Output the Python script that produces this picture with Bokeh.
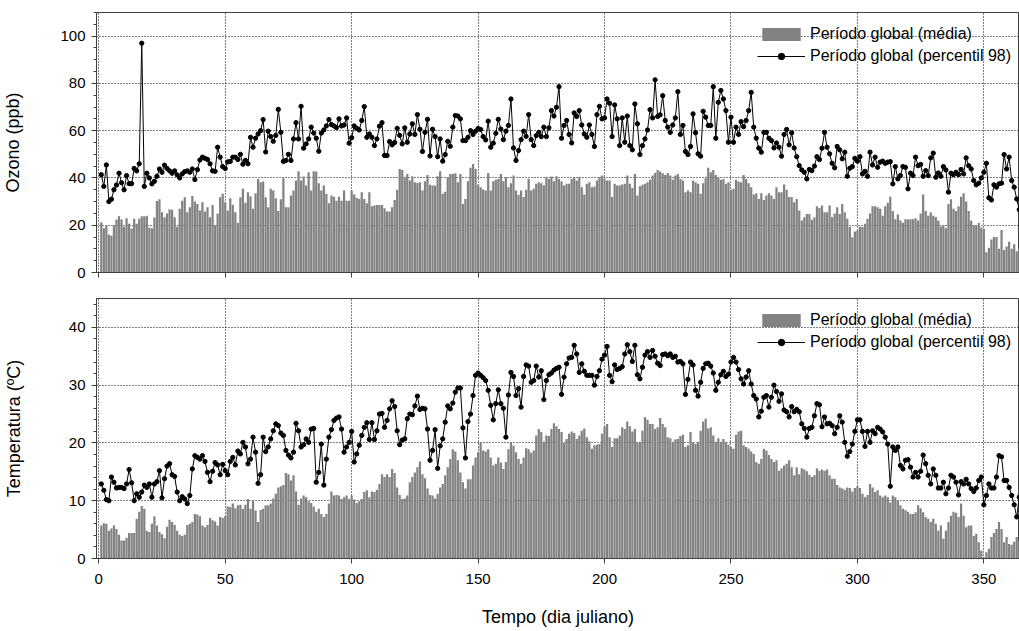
from bokeh.plotting import figure
from bokeh.layouts import column
from bokeh.models import Range1d, Legend, LegendItem, FixedTicker, CustomLabelingPolicy
from bokeh.embed import file_html
from bokeh.resources import INLINE

# ---------------- data ----------------
days = list(range(1, 366))

x_ticks = [0, 50, 100, 150, 200, 250, 300, 350]
ozone_ticks = [0, 20, 40, 60, 80, 100]
temp_ticks = [0, 10, 20, 30, 40]

label_mean = "Período global (média)"
label_p98 = "Período global (percentil 98)"
ozone_title = "Ozono (ppb)"
temp_title = "Temperatura (ºC)"
x_title = "Tempo (dia juliano)"

ozone_mean = [
    21.3, 18.7, 20.0, 16.0, 15.6, 20.0, 22.4, 23.8, 22.4, 19.4,
    23.0, 20.6, 18.5, 22.7, 20.6, 22.7, 23.8, 23.8, 24.0, 19.0,
    18.7, 23.3, 30.3, 31.0, 25.5, 23.4, 25.0, 26.8, 26.6, 23.4,
    19.4, 27.0, 30.4, 31.8, 25.5, 27.6, 32.4, 30.0, 29.0, 26.2,
    29.7, 25.8, 27.6, 23.4, 28.6, 20.0, 25.0, 31.8, 33.3, 29.7,
    26.2, 31.4, 28.7, 25.5, 21.0, 31.8, 35.4, 29.5, 34.0, 32.3,
    27.0, 33.5, 39.6, 38.2, 38.5, 31.8, 27.6, 35.4, 34.7, 31.4,
    26.0, 31.0, 39.9, 27.6, 27.6, 32.6, 34.7, 38.9, 42.8, 38.9,
    40.6, 36.8, 42.4, 34.7, 42.8, 42.7, 37.8, 34.7, 36.8, 33.3,
    29.3, 32.6, 32.1, 30.4, 32.1, 30.4, 34.7, 30.4, 30.4, 34.7,
    33.0, 31.6, 31.1, 34.0, 31.1, 29.3, 34.0, 28.0, 28.3, 28.6,
    28.6, 28.6, 27.2, 25.8, 25.8, 27.6, 30.7, 35.0, 43.8, 43.4,
    40.3, 41.7, 38.9, 40.7, 38.2, 37.9, 38.2, 34.7, 38.6, 41.3,
    37.1, 36.8, 36.8, 40.7, 42.8, 33.3, 34.2, 40.0, 41.7, 41.7,
    42.0, 38.2, 41.7, 29.0, 31.1, 38.6, 44.3, 45.9, 43.8, 37.1,
    36.1, 35.1, 34.7, 42.1, 34.7, 38.6, 39.2, 39.6, 41.7, 38.6,
    40.3, 36.1, 37.8, 41.0, 34.7, 32.8, 34.7, 31.9, 35.0, 39.6,
    34.7, 35.4, 37.5, 38.2, 37.8, 36.8, 40.3, 39.6, 40.6, 38.6,
    40.7, 39.6, 38.5, 36.8, 37.5, 37.5, 39.6, 40.3, 38.9, 40.3,
    36.1, 33.0, 37.5, 38.2, 36.1, 36.4, 38.9, 40.3, 41.0, 39.6,
    38.9, 38.9, 31.9, 37.5, 36.8, 36.8, 37.2, 37.5, 41.0, 37.5,
    35.7, 41.7, 32.6, 36.5, 37.1, 37.5, 38.2, 39.2, 41.0, 42.1,
    43.4, 42.7, 42.0, 41.3, 42.1, 41.0, 39.2, 41.0, 41.7, 39.6,
    38.9, 34.0, 34.7, 34.0, 38.9, 38.2, 37.5, 33.3, 37.8, 39.9,
    44.3, 42.4, 43.4, 41.3, 40.3, 39.2, 39.6, 37.5, 38.2, 35.0,
    35.4, 39.2, 38.5, 38.2, 41.3, 39.6, 37.8, 36.1, 33.0, 33.5,
    31.1, 33.5, 30.7, 32.6, 33.5, 32.6, 31.1, 36.1, 34.0, 34.0,
    37.2, 35.0, 31.9, 31.9, 29.7, 31.1, 26.2, 22.0, 23.4, 24.8,
    24.8, 22.3, 23.4, 28.0, 27.3, 28.3, 25.5, 25.5, 28.3, 23.4,
    25.0, 27.6, 24.8, 29.0, 25.5, 22.7, 19.2, 14.9, 17.3, 17.8,
    19.4, 19.2, 20.6, 22.7, 25.0, 28.0, 28.0, 27.6, 27.0, 24.0,
    28.0, 29.5, 32.0, 26.0, 22.5, 24.5, 22.0, 21.0, 22.5, 22.5,
    22.5, 22.5, 23.0, 22.0, 25.0, 33.0, 26.0, 24.0, 25.5, 24.0,
    23.5, 22.0, 19.5, 20.0, 18.7, 29.0, 31.0, 27.0, 26.0, 28.0,
    32.0, 33.5, 30.0, 26.0, 22.0, 20.0, 20.0, 21.0, 19.0, 18.5,
    8.6, 10.5, 14.0, 15.0, 15.0, 10.0, 18.0, 9.5, 11.0, 13.0,
    10.0, 12.0, 9.0, 10.0, 8.0,
]

ozone_p98 = [
    41.4, 36.4, 45.5, 30.0, 31.0, 35.0, 37.0, 42.0, 38.0, 35.0,
    41.0, 37.6, 37.6, 44.0, 43.0, 46.0, 97.0, 36.4, 42.0, 40.0,
    37.5, 38.6, 40.7, 43.8, 42.4, 45.4, 44.0, 43.0, 42.0, 43.0,
    41.3, 40.0, 41.7, 42.7, 43.0, 42.4, 43.8, 39.3, 43.5, 47.6,
    48.8, 48.3, 47.8, 46.0, 43.0, 42.8, 53.0, 48.8, 44.8, 44.0,
    46.8, 47.0, 48.8, 48.8, 47.8, 50.0, 45.8, 47.4, 46.0, 57.2,
    53.0, 56.8, 58.6, 60.0, 64.7, 51.0, 59.8, 57.5, 55.5, 58.0,
    69.0, 59.3, 47.0, 47.4, 50.0, 47.4, 56.5, 63.4, 56.5, 70.3,
    52.6, 54.4, 56.5, 61.5, 59.0, 56.8, 51.3, 59.0, 60.3, 62.0,
    64.7, 62.6, 62.0, 61.3, 65.0, 62.0, 62.4, 65.4, 54.7, 57.0,
    62.0, 61.0, 60.3, 64.3, 70.2, 57.2, 58.6, 57.2, 53.7, 56.5,
    61.9, 63.4, 49.5, 49.5, 55.4, 54.0, 55.0, 61.0, 58.0, 54.4,
    61.2, 55.1, 58.6, 62.9, 58.4, 66.8, 60.6, 51.2, 59.3, 64.8,
    49.3, 60.6, 57.5, 49.0, 56.5, 47.1, 49.9, 55.5, 53.4, 61.5,
    66.4, 66.2, 65.0, 55.8, 55.8, 57.2, 60.0, 58.4, 59.8, 60.9,
    60.5, 57.5, 56.1, 64.0, 53.0, 54.7, 58.9, 64.8, 60.7, 56.2,
    59.8, 62.2, 73.4, 52.7, 47.4, 51.6, 56.2, 59.8, 57.6, 66.8,
    56.2, 53.7, 57.9, 59.3, 57.5, 61.5, 57.5, 61.2, 68.5, 66.2,
    69.9, 78.6, 56.8, 62.2, 64.3, 58.4, 54.8, 67.5, 66.0, 68.5,
    62.4, 58.6, 57.2, 62.4, 58.4, 53.3, 66.8, 70.3, 65.0, 65.4,
    73.4, 71.6, 57.5, 70.9, 65.0, 53.7, 65.4, 55.1, 66.2, 53.7,
    51.9, 71.3, 62.9, 49.9, 53.7, 56.5, 60.3, 68.9, 65.4, 81.5,
    66.0, 66.7, 74.8, 64.3, 61.5, 59.3, 62.4, 65.4, 76.5, 58.4,
    62.2, 51.2, 49.9, 53.3, 67.1, 59.1, 50.2, 49.2, 68.2, 65.7,
    62.2, 62.2, 78.6, 56.8, 72.0, 77.0, 73.4, 68.5, 55.1, 65.7,
    55.1, 61.5, 58.4, 63.8, 61.7, 64.3, 68.5, 76.2, 61.5, 56.8,
    52.6, 50.9, 59.3, 59.3, 56.8, 55.8, 52.7, 54.8, 53.0, 49.2,
    58.4, 60.5, 54.0, 59.1, 52.7, 49.0, 45.2, 43.4, 42.4, 39.6,
    43.6, 43.1, 45.0, 49.0, 47.8, 52.6, 59.3, 53.0, 50.2, 46.2,
    44.3, 53.3, 51.9, 48.1, 50.9, 40.7, 44.1, 44.8, 48.3, 47.1,
    49.0, 41.7, 42.8, 40.7, 50.9, 45.5, 48.8, 44.5, 46.7, 47.1,
    46.2, 46.7, 46.9, 37.5, 44.8, 39.6, 41.0, 44.8, 44.5, 35.4,
    42.0, 41.0, 48.8, 45.2, 45.7, 40.7, 43.1, 41.0, 48.5, 50.5,
    40.3, 42.1, 40.7, 44.8, 43.4, 34.0, 42.0, 41.4, 42.4, 41.4,
    43.6, 41.7, 48.5, 45.2, 43.8, 38.9, 37.1, 37.8, 40.0, 42.4,
    46.2, 31.6, 30.7, 37.1, 36.1, 37.5, 37.8, 49.9, 43.8, 48.8,
    38.9, 36.1, 31.1, 26.6, 19.2,
]

temp_mean = [
    5.7, 6.1, 6.0, 4.8, 5.2, 5.7, 5.1, 4.1, 3.1, 3.1,
    3.6, 4.4, 4.4, 4.4, 6.9, 8.1, 9.1, 8.6, 4.8, 4.6,
    6.0, 7.3, 5.7, 4.6, 4.2, 3.5, 5.5, 6.7, 6.3, 5.8,
    4.8, 4.1, 3.9, 4.1, 5.8, 6.0, 6.3, 7.7, 7.6, 7.3,
    5.7, 5.4, 5.8, 7.0, 6.6, 6.4, 5.7, 7.2, 7.0, 7.3,
    9.0, 8.9, 9.5, 8.7, 9.2, 9.3, 8.6,
    9.3, 10.3, 8.6, 10.0, 8.3, 6.3, 8.4, 8.6, 9.2, 9.2,
    9.5, 10.4, 11.2, 12.3, 12.5, 12.7, 14.8, 14.6, 13.5, 14.4,
    11.6, 9.3, 10.4, 10.9, 10.6, 9.9, 9.6, 9.0, 8.1, 8.6,
    7.7, 7.2, 7.7, 9.5, 11.6, 10.9, 11.0, 10.9, 10.3, 10.6,
    10.9, 10.3, 10.9, 10.2, 9.6, 9.9, 10.3, 11.5, 11.8, 10.6,
    11.6, 11.5, 11.9, 12.9, 14.6, 14.1, 14.6, 14.1, 15.5, 14.8,
    12.3, 11.0, 10.3,
    10.4, 10.9, 13.2, 14.1, 14.9, 15.8, 16.8, 14.6, 13.9, 12.1,
    11.0, 10.9, 10.4, 11.2, 12.3, 12.9, 14.4, 15.8, 17.2, 18.9,
    18.5, 17.0, 14.9, 13.2, 12.1, 13.7, 13.7, 16.1, 17.5, 18.4,
    20.1, 18.7, 18.5, 18.9, 17.5, 16.1, 16.4, 17.5, 16.6, 15.5,
    16.7, 18.9, 20.1, 19.5, 18.4, 17.2, 16.4, 17.5, 19.1, 18.9,
    18.3, 18.7, 21.3, 22.4, 21.9, 20.2, 21.3, 21.2, 22.4, 23.4,
    22.9, 22.4,
    21.9, 20.0, 20.7, 21.6, 22.0, 21.7, 20.7, 21.3, 22.1, 22.5,
    21.0, 20.3, 19.0, 19.6, 19.7, 19.8, 21.6, 22.8, 23.3, 21.0,
    19.3, 20.8, 20.8, 21.3, 22.7, 22.4, 23.7, 22.9, 22.0, 22.4,
    20.1, 20.0, 22.1, 24.5, 24.0, 23.3, 23.3, 22.4, 22.7, 24.3,
    23.3, 22.7, 21.0, 20.8, 20.1, 20.6, 20.7, 21.2, 21.4, 19.3,
    19.6, 21.9, 20.1, 19.8, 20.1, 22.1, 23.7, 24.2, 22.5, 22.7,
    21.3,
    20.2, 20.8, 20.2, 20.7, 20.1, 19.7, 19.3, 19.0, 21.4, 22.0,
    22.1, 19.6, 19.3, 19.0, 18.5, 18.1, 16.7, 16.4, 17.2, 19.0,
    18.7, 17.9, 17.2, 16.7, 17.0, 15.2, 15.6, 16.1, 16.4, 17.0,
    15.8, 14.4, 15.8, 14.6, 15.6, 15.4, 15.1, 14.5, 14.1, 14.4,
    15.6, 15.2, 15.4, 15.2, 15.4, 14.4, 13.8, 13.8, 12.7, 12.3,
    12.1, 11.9, 12.3, 12.2, 11.6, 12.2, 12.5, 12.2, 11.2, 10.6,
    11.0,
    12.9, 12.3, 11.5, 11.8, 10.9, 10.6, 10.9, 10.6, 9.7, 10.9,
    10.6, 10.0, 9.2, 8.6, 8.4, 8.1, 7.7, 7.7, 8.0, 9.2,
    8.7, 8.0, 7.2, 6.9, 6.3, 6.9, 6.0, 4.8, 5.7, 3.4,
    4.8, 6.3, 7.4, 8.1, 7.9, 7.2, 9.5, 7.4, 5.4, 5.7,
    5.7, 3.9, 4.3, 2.8, 1.4, 0.2, 1.1, 1.7, 3.7, 4.4,
    5.1, 6.3, 5.1, 2.8, 3.7, 2.5, 2.4, 2.9, 3.7, 3.1,
    2.5,
]

temp_p98 = [
    12.9, 11.8, 10.2, 10.0, 14.1, 13.2, 12.2, 12.3, 12.3, 12.1,
    12.9, 15.4, 13.1, 10.0, 11.2, 10.6, 11.5, 12.7, 12.3, 12.9,
    10.6, 12.9, 13.3, 15.2, 10.5, 13.8, 16.0, 16.4, 14.5, 14.2,
    11.5, 10.0, 10.7, 10.3, 9.5, 10.9, 15.5, 17.8, 17.5, 17.2,
    17.8, 16.8, 14.9, 13.3, 15.1, 16.6, 16.2, 14.5, 16.3, 15.2,
    14.5, 16.8, 17.5, 16.2, 18.6, 18.1, 20.1, 19.3, 16.4, 17.2,
    21.0, 18.4, 13.0, 14.5, 21.0, 18.5, 19.3, 20.7, 22.1, 23.3,
    23.0, 21.7, 21.3, 18.7, 17.9, 17.4, 18.4, 23.4, 22.1, 19.3,
    19.7, 20.7, 20.1, 22.4, 22.5, 13.2, 14.9, 19.8, 12.7, 17.2,
    21.0, 22.3, 23.9, 24.3, 24.5, 22.4, 18.4, 19.3, 20.1, 22.0,
    16.7, 18.1, 19.6, 21.3, 22.7, 23.5, 20.6, 23.5, 20.6, 22.1,
    25.0, 25.1, 22.7, 23.9, 25.9, 27.3, 26.3, 22.1, 19.7, 20.5,
    20.7, 24.2, 25.0, 24.9, 26.4, 28.1, 25.8, 26.0, 25.9, 22.4,
    17.0, 18.7, 22.3, 15.6, 19.5, 20.7, 23.6, 26.4, 25.9, 26.9,
    28.8, 29.5, 29.5, 22.6, 17.4, 23.7, 25.0, 28.2, 31.7, 32.1,
    31.7, 31.3, 30.8, 29.1, 26.5, 24.0, 26.8, 29.2, 26.8, 26.0,
    21.0, 28.3, 32.2, 31.5, 28.2, 29.4, 26.2, 31.5, 33.5, 33.3,
    30.5, 30.8, 33.3, 31.4, 32.5, 27.5, 30.8, 31.8, 32.1, 32.6,
    32.9,
    33.1, 28.4, 31.4, 33.7, 34.7, 34.8, 36.9, 35.4, 32.2, 33.7,
    32.4, 31.7, 31.7, 31.7, 30.0, 31.5, 32.5, 34.5, 35.2, 36.7,
    31.7, 30.6, 33.5, 32.7, 32.9, 33.2, 35.4, 37.0, 35.8, 34.1,
    36.9, 31.8, 31.1, 33.1, 35.2, 35.8, 34.8, 36.0, 35.0, 33.8,
    33.4, 35.3, 35.4, 35.1, 35.4, 34.8, 35.0, 34.0, 34.1, 33.7,
    28.4, 31.0, 34.0, 33.5, 29.1, 28.1, 30.5, 32.9, 33.7, 33.8,
    33.3, 32.1,
    29.1, 30.5, 31.8, 32.4, 31.5, 31.9, 34.0, 34.8, 34.0, 32.7,
    31.1, 30.2, 31.4, 32.5, 30.2, 28.2, 27.6, 24.5, 25.5, 27.9,
    28.2, 26.2, 27.9, 30.0, 28.9, 27.2, 28.5, 25.7, 25.4, 24.5,
    26.3, 25.4, 25.8, 25.4, 23.3, 22.5, 21.0, 22.5, 22.7, 24.7,
    26.8, 26.6, 22.8, 24.5, 23.3, 23.4, 23.0, 21.6, 22.7, 24.7,
    23.6, 20.1, 17.7, 18.5, 19.8, 22.0, 24.0, 24.0, 22.0, 19.4,
    22.0,
    20.1, 22.1, 21.6, 22.7, 22.4, 21.9, 21.0, 19.8, 12.5, 19.3,
    18.7, 19.3, 16.1, 15.5, 17.0, 17.1, 15.8, 14.1, 14.9, 14.1,
    15.1, 17.9, 16.4, 14.4, 12.9, 15.5, 14.4, 12.2, 12.2, 13.2,
    11.2, 12.2, 14.4, 14.1, 13.2, 11.0, 13.3, 12.9, 13.7, 12.9,
    12.1, 11.6, 12.2, 13.5, 14.1, 9.3, 10.9, 12.9, 12.2, 12.2,
    14.1, 17.8, 17.6, 13.5, 13.5, 12.3, 10.9, 9.3, 7.2, 10.6,
    7.4,
]

for name, arr in [("ozone_mean", ozone_mean), ("ozone_p98", ozone_p98),
                  ("temp_mean", temp_mean), ("temp_p98", temp_p98)]:
    assert len(arr) == len(days), f"{name}: {len(arr)}"

# ---------------- styling ----------------
FONT = "Liberation Sans"
BAR = "#828282"
AXC = "#404040"
W = 1019


def make_panel(mean, p98, ytitle, ymax, yticks, yminor, height, btop, bbottom,
               show_xlabels, title_standoff):
    p = figure(width=W, height=height, title=None,
               x_range=Range1d(-0.9, 364.1), y_range=Range1d(0, ymax),
               output_backend="svg", toolbar_location=None,
               min_border_left=93, min_border_right=0,
               min_border_top=btop, min_border_bottom=bbottom)
    p.background_fill_color = "white"
    p.border_fill_color = "white"
    p.outline_line_color = AXC
    p.outline_line_width = 1

    p.xaxis.ticker = FixedTicker(ticks=x_ticks)
    p.yaxis.ticker = FixedTicker(ticks=yticks, minor_ticks=yminor)

    for ax in (p.xaxis[0], p.yaxis[0]):
        ax.axis_line_color = AXC
        ax.major_tick_line_color = AXC
        ax.minor_tick_line_color = AXC
        ax.major_tick_out = 5
        ax.major_tick_in = 0
        ax.minor_tick_out = 3
        ax.minor_tick_in = 0
        ax.major_label_text_font = FONT
        ax.major_label_text_font_size = "15px"
        ax.major_label_text_color = "black"
        ax.axis_label_text_font = FONT
        ax.axis_label_text_font_size = "18px"
        ax.axis_label_text_font_style = "normal"
        ax.axis_label_text_color = "black"
    p.xaxis.minor_tick_line_color = None

    p.yaxis.axis_label = ytitle
    p.yaxis.axis_label_standoff = title_standoff
    p.yaxis.major_label_standoff = 6

    if show_xlabels:
        p.xaxis.axis_label = x_title
        p.xaxis.major_label_standoff = 10
        p.xaxis.axis_label_standoff = 20
    else:
        # the upper panel shows tick marks only, no tick labels
        p.xaxis.major_label_text_font_size = "1px"
        p.xaxis.major_label_standoff = 0
        p.xaxis.major_label_policy = CustomLabelingPolicy(code="return []")

    for g in (p.xgrid[0], p.ygrid[0]):
        g.grid_line_color = "black"
        g.grid_line_dash = "1 2"
        g.grid_line_width = 1

    bars = p.vbar(x=days, top=mean, width=0.88, bottom=0,
                  fill_color=BAR, line_color=None)
    line = p.line(days, p98, line_color="black", line_width=1)
    dots = p.scatter(days, p98, marker="circle", size=4.3,
                     fill_color="black", line_color="black")

    legend = Legend(items=[LegendItem(label=label_mean, renderers=[bars]),
                           LegendItem(label=label_p98, renderers=[line, dots])],
                    location=(661, 207))
    legend.label_text_font = FONT
    legend.label_text_font_size = "16px"
    legend.label_text_color = "black"
    legend.glyph_width = 48
    legend.glyph_height = 16
    legend.label_height = 16
    legend.label_standoff = 5
    legend.spacing = 4
    legend.padding = 0
    legend.margin = 0
    legend.background_fill_alpha = 0
    legend.border_line_alpha = 0
    p.add_layout(legend)
    return p


oz_minor = list(range(0, 111, 5))
t_minor = list(range(0, 46, 2))

p1 = make_panel(ozone_mean, ozone_p98, ozone_title, 110, ozone_ticks, oz_minor,
                height=290, btop=12, bbottom=18, show_xlabels=False, title_standoff=34)
p2 = make_panel(temp_mean, temp_p98, temp_title, 45, temp_ticks, t_minor,
                height=341, btop=8, bbottom=73, show_xlabels=True, title_standoff=42)

layout = column(p1, p2, spacing=0)

with open("out.html", "w") as f:
    f.write(file_html(layout, INLINE))
